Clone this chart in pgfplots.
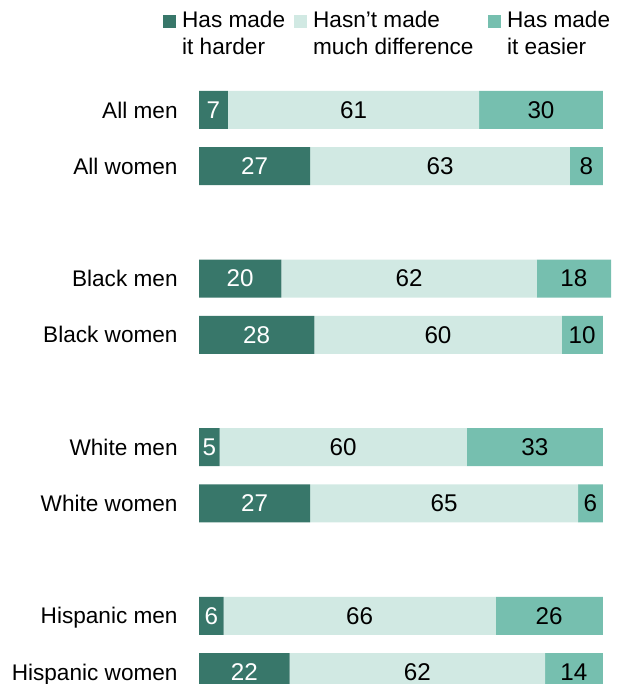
\documentclass[border=0pt]{standalone}
\usepackage{pgfplots}
\pgfplotsset{compat=1.18}
\usepackage{pgfplotstable}
\usepackage{fontspec}
\setmainfont{Liberation Sans}
\definecolor{cA}{HTML}{38776A}
\definecolor{cB}{HTML}{D1E9E3}
\definecolor{cC}{HTML}{76BFAF}

\pgfplotstableread{
y a b c
0 7 61 30
1 27 63 8
3 20 62 18
4 28 60 10
6 5 60 33
7 27 65 6
9 6 66 26
10 22 62 14
}\data

\pgfplotsset{
  base/.style={at={(99.5pt,301.05pt)}, anchor=north west, width=206pt, height=309.1pt,
    scale only axis, xmin=0, xmax=100, ymin=-0.5, ymax=10.5, y dir=reverse,
    axis line style={draw=none}, xtick=\empty, major tick length=0pt},
  sq/.style={legend image code/.code={\fill[##1,draw=none] (0pt,0pt) rectangle (6.5pt,6.5pt); \path (9.5pt,0pt);}},
  lab/.style={only marks, mark=none, nodes near coords, point meta=explicit symbolic,
    nodes near coords align=center, every node near coord/.append style={text=#1, inner sep=0pt, anchor=center, font=\fontsize{12.1}{13.5}\selectfont}},
}

\begin{document}
\fontsize{11.3}{13.5}\selectfont
\begin{tikzpicture}
\useasboundingbox (0,0) rectangle (308pt,342pt);
\clip (0,0) rectangle (308pt,342pt);
\begin{axis}[base, xbar stacked, bar width=19pt,
  ytick={0,1,3,4,6,7,9,10},
  yticklabels={All men, All women, Black men, Black women, White men, White women, Hispanic men, Hispanic women},
  yticklabel style={anchor=base east, inner sep=0pt, xshift=-10.5pt, yshift=-4.05pt},
  legend columns=3,
  legend style={draw=none, fill=none, inner sep=0pt, outer sep=0pt, at={(-0.087,1.118)}, anchor=north west,
    cells={anchor=base west}, nodes={inner sep=0pt}, /tikz/column sep=0pt},
]
\addplot[fill=cA, draw=none, sq] table[x=a, y=y] {\data};
\addlegendentry{\begin{tabular}[t]{@{}p{56pt}@{}}Has made\\it harder\end{tabular}}
\addplot[fill=cB, draw=none, sq] table[x=b, y=y] {\data};
\addlegendentry{\begin{tabular}[t]{@{}p{87.5pt}@{}}Hasn’t made\\much difference\end{tabular}}
\addplot[fill=cC, draw=none, sq] table[x=c, y=y] {\data};
\addlegendentry{\begin{tabular}[t]{@{}l@{}}Has made\\it easier\end{tabular}}
\end{axis}
\begin{axis}[base, hide axis, clip=false]
\addplot[lab=white] table[x expr=\thisrow{a}/2, y=y, meta=a] {\data};
\addplot[lab=black] table[x expr=\thisrow{a}+\thisrow{b}/2, y=y, meta=b] {\data};
\addplot[lab=black] table[x expr=\thisrow{a}+\thisrow{b}+\thisrow{c}/2, y=y, meta=c] {\data};
\end{axis}
\end{tikzpicture}
\end{document}
